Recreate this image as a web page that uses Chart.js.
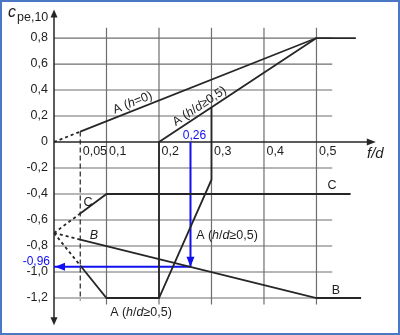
<!DOCTYPE html>
<html>
<head>
<meta charset="utf-8">
<script src="https://cdn.jsdelivr.net/npm/chart.js@4/dist/chart.umd.min.js"></script>
<style>
  html, body { margin: 0; padding: 0; background: #fff; }
  canvas { display: block; }
</style>
</head>
<body>
<canvas id="chart" width="400" height="335"></canvas>
<script>
// Axis ticks (f/d and c_pe,10)
const xTicks = [0.05, 0.1, 0.2, 0.3, 0.4, 0.5];
const xTickLabels = ['0,05', '0,1', '0,2', '0,3', '0,4', '0,5'];
const yTicks = [0.8, 0.6, 0.4, 0.2, 0, -0.2, -0.4, -0.6, -0.8, -1.0, -1.2];
const yTickLabels = ['0,8', '0,6', '0,4', '0,2', '0', '-0,2', '-0,4', '-0,6', '-0,8', '-1,0', '-1,2'];

// Curve A (h=0)
const aFlatDashX = [0, 0.05];
const aFlatDashY = [0, 0.08];
const aFlatX = [0.05, 0.5, 0.575];
const aFlatY = [0.08, 0.8, 0.8];

// Curve A (h/d >= 0,5): upper branch and lower branch
const aHighUpperX = [0.5, 0.2, 0.2];
const aHighUpperY = [0.8, 0, -1.2];
const aHighDashX = [0, 0.05];
const aHighDashY = [-0.7, -0.95];
const aHighLowerX = [0.05, 0.1, 0.2, 0.3, 0.3];
const aHighLowerY = [-0.95, -1.2, -1.2, -0.29, 0.267];

// Curve B
const bDashX = [0, 0.05];
const bDashY = [-0.7, -0.75];
const bX = [0.05, 0.5, 0.585];
const bY = [-0.75, -1.2, -1.2];

// Curve C
const cDashX = [0, 0.05];
const cDashY = [-0.7, -0.55];
const cX = [0.05, 0.1, 0.565];
const cY = [-0.55, -0.4, -0.4];

// Reading example: f/d = 0,26 -> c_pe,10 = -0,96
const readDownX = [0.26, 0.26];
const readDownY = [0, -0.96];
const readLeftX = [0.26, 0];
const readLeftY = [-0.96, -0.96];

const ink = '#262626';
const gridInk = '#6e6e6e';
const blue = '#1010f0';
const fontFamily = '"Liberation Sans", Arial, sans-serif';

function pts(xs, ys) {
  return xs.map((v, i) => ({ x: v, y: ys[i] }));
}

function curve(xs, ys, dash) {
  return {
    data: pts(xs, ys),
    borderColor: ink,
    borderWidth: 1.8,
    borderDash: dash || [],
    showLine: true,
    pointRadius: 0,
    fill: false,
    tension: 0,
  };
}

function blueLine(xs, ys) {
  return {
    data: pts(xs, ys),
    borderColor: blue,
    borderWidth: 2,
    showLine: true,
    pointRadius: 0,
    fill: false,
    tension: 0,
  };
}

function arrowHead(ctx, tipX, tipY, dirX, dirY, len, half, color) {
  const bx = tipX - dirX * len;
  const by = tipY - dirY * len;
  ctx.fillStyle = color;
  ctx.beginPath();
  ctx.moveTo(tipX, tipY);
  ctx.lineTo(bx - dirY * half, by + dirX * half);
  ctx.lineTo(bx + dirY * half, by - dirX * half);
  ctx.closePath();
  ctx.fill();
}

// Draw text made of parts [text, italic], centred at (x, y baseline)
function richText(ctx, parts, x, y, size) {
  const widths = parts.map(([t, it]) => {
    ctx.font = `${it ? 'italic ' : ''}${size}px ${fontFamily}`;
    return ctx.measureText(t).width;
  });
  let cx = x - widths.reduce((a, b) => a + b, 0) / 2;
  ctx.textAlign = 'left';
  parts.forEach(([t, it], i) => {
    ctx.font = `${it ? 'italic ' : ''}${size}px ${fontFamily}`;
    ctx.fillText(t, cx, y);
    cx += widths[i];
  });
}

const labelAHigh = [['A (', false], ['h', true], ['/', false], ['d', true], ['\u22650,5)', false]];
const labelAFlat = [['A (', false], ['h', true], ['=0)', false]];

const sketchPlugin = {
  id: 'sketch',
  beforeDatasetsDraw(chart) {
    const { ctx } = chart;
    const xs = chart.scales.x;
    const ys = chart.scales.y;
    ctx.save();

    // grid
    ctx.strokeStyle = gridInk;
    ctx.lineWidth = 1.2;
    yTicks.forEach((v) => {
      if (v === 0) return;
      ctx.beginPath();
      ctx.moveTo(xs.getPixelForValue(0), ys.getPixelForValue(v));
      ctx.lineTo(xs.getPixelForValue(0.53), ys.getPixelForValue(v));
      ctx.stroke();
    });
    xTicks.forEach((v) => {
      ctx.beginPath();
      if (v === 0.05) {
        ctx.setLineDash([5, 3]);
        ctx.strokeStyle = ink;
        ctx.moveTo(xs.getPixelForValue(v), ys.getPixelForValue(0.08));
        ctx.lineTo(xs.getPixelForValue(v), ys.getPixelForValue(-1.22));
      } else {
        ctx.setLineDash([]);
        ctx.strokeStyle = gridInk;
        ctx.moveTo(xs.getPixelForValue(v), ys.getPixelForValue(0.88));
        ctx.lineTo(xs.getPixelForValue(v), ys.getPixelForValue(-1.25));
      }
      ctx.stroke();
    });
    ctx.setLineDash([]);

    // axes with arrows
    const x0 = xs.getPixelForValue(0);
    const y0 = ys.getPixelForValue(0);
    const yTop = ys.getPixelForValue(1.02);
    const yBot = ys.getPixelForValue(-1.41);
    const xEnd = xs.getPixelForValue(0.613);
    ctx.strokeStyle = ink;
    ctx.lineWidth = 1.5;
    ctx.beginPath();
    ctx.moveTo(x0, yTop + 4);
    ctx.lineTo(x0, yBot - 4);
    ctx.moveTo(x0, y0);
    ctx.lineTo(xEnd - 4, y0);
    ctx.stroke();
    arrowHead(ctx, x0, yTop, 0, -1, 8, 3.5, ink);
    arrowHead(ctx, x0, yBot, 0, 1, 8, 3.5, ink);
    arrowHead(ctx, xEnd, y0, 1, 0, 9, 3.5, ink);
    ctx.restore();
  },
  afterDatasetsDraw(chart) {
    const { ctx } = chart;
    const xs = chart.scales.x;
    const ys = chart.scales.y;
    const px = (v) => xs.getPixelForValue(v);
    const py = (v) => ys.getPixelForValue(v);
    ctx.save();

    // blue arrow heads
    arrowHead(ctx, px(readDownX[1]), py(readDownY[1]), 0, 1, 10, 4, blue);
    arrowHead(ctx, px(readLeftX[1]) + 1, py(readLeftY[1]), -1, 0, 10, 4, blue);

    // tick labels
    ctx.fillStyle = '#1e1e1e';
    ctx.font = `12.5px ${fontFamily}`;
    ctx.textAlign = 'right';
    ctx.textBaseline = 'middle';
    yTicks.forEach((v, i) => ctx.fillText(yTickLabels[i], 48, py(v)));
    ctx.textAlign = 'left';
    ctx.textBaseline = 'top';
    xTicks.forEach((v, i) => ctx.fillText(xTickLabels[i], px(v) + 2.5, py(0) + 3));

    // axis titles
    ctx.textBaseline = 'alphabetic';
    ctx.font = `italic 16px ${fontFamily}`;
    ctx.fillText('c', 8, 17);
    ctx.font = `12.5px ${fontFamily}`;
    ctx.fillText('pe,10', 17, 21);
    ctx.font = `italic 15px ${fontFamily}`;
    ctx.fillText('f/d', 367, 158);

    // reading values
    ctx.fillStyle = blue;
    ctx.font = `12px ${fontFamily}`;
    ctx.textAlign = 'center';
    ctx.fillText('0,26', px(0.26) + 4, py(0) - 3);
    ctx.textAlign = 'right';
    ctx.fillText('-0,96', 50, py(-0.96) - 1.5);

    // curve labels
    ctx.fillStyle = '#1e1e1e';
    const along = (xa, ya, xb, yb, at, parts) => {
      const ang = Math.atan2(py(yb) - py(ya), px(xb) - px(xa));
      const t = (at - xa) / (xb - xa);
      const lx = px(at);
      const ly = py(ya + t * (yb - ya));
      ctx.save();
      ctx.translate(lx, ly);
      ctx.rotate(ang);
      richText(ctx, parts, 0, -4, 12.5);
      ctx.restore();
    };
    along(aFlatX[0], aFlatY[0], aFlatX[1], aFlatY[1], 0.155, labelAFlat);
    along(aHighUpperX[1], aHighUpperY[1], aHighUpperX[0], aHighUpperY[0], 0.285, labelAHigh);

    richText(ctx, labelAHigh, 227, 239, 12.5);
    richText(ctx, labelAHigh, 141, 316, 12.5);
    richText(ctx, [['C', false]], 88, 206, 12.5);
    richText(ctx, [['C', false]], 332, 189, 12.5);
    richText(ctx, [['B', true]], 94, 239, 12.5);
    richText(ctx, [['B', false]], 336, 294, 12.5);

    // frame
    ctx.strokeStyle = '#4a78c4';
    ctx.lineWidth = 2;
    ctx.strokeRect(1, 1, 398, 333);
    ctx.restore();
  },
};

const ctx = document.getElementById('chart');
new Chart(ctx, {
  type: 'scatter',
  data: {
    datasets: [
      curve(aFlatDashX, aFlatDashY, [3, 3]),
      curve(aFlatX, aFlatY),
      curve(aHighUpperX, aHighUpperY),
      curve(aHighDashX, aHighDashY, [3, 3]),
      curve(aHighLowerX, aHighLowerY),
      curve(bDashX, bDashY, [3, 3]),
      curve(bX, bY),
      curve(cDashX, cDashY, [3, 3]),
      curve(cX, cY),
      blueLine(readDownX, readDownY),
      blueLine(readLeftX, readLeftY),
    ],
  },
  options: {
    responsive: false,
    animation: false,
    layout: {
      padding: { left: 54, right: 20, top: 8, bottom: 8 },
    },
    plugins: {
      legend: { display: false },
      tooltip: { enabled: false },
    },
    scales: {
      x: {
        type: 'linear',
        display: false,
        min: 0,
        max: 0.621,
      },
      y: {
        type: 'linear',
        display: false,
        min: -1.423,
        max: 1.031,
      },
    },
  },
  plugins: [sketchPlugin],
});
</script>
</body>
</html>
